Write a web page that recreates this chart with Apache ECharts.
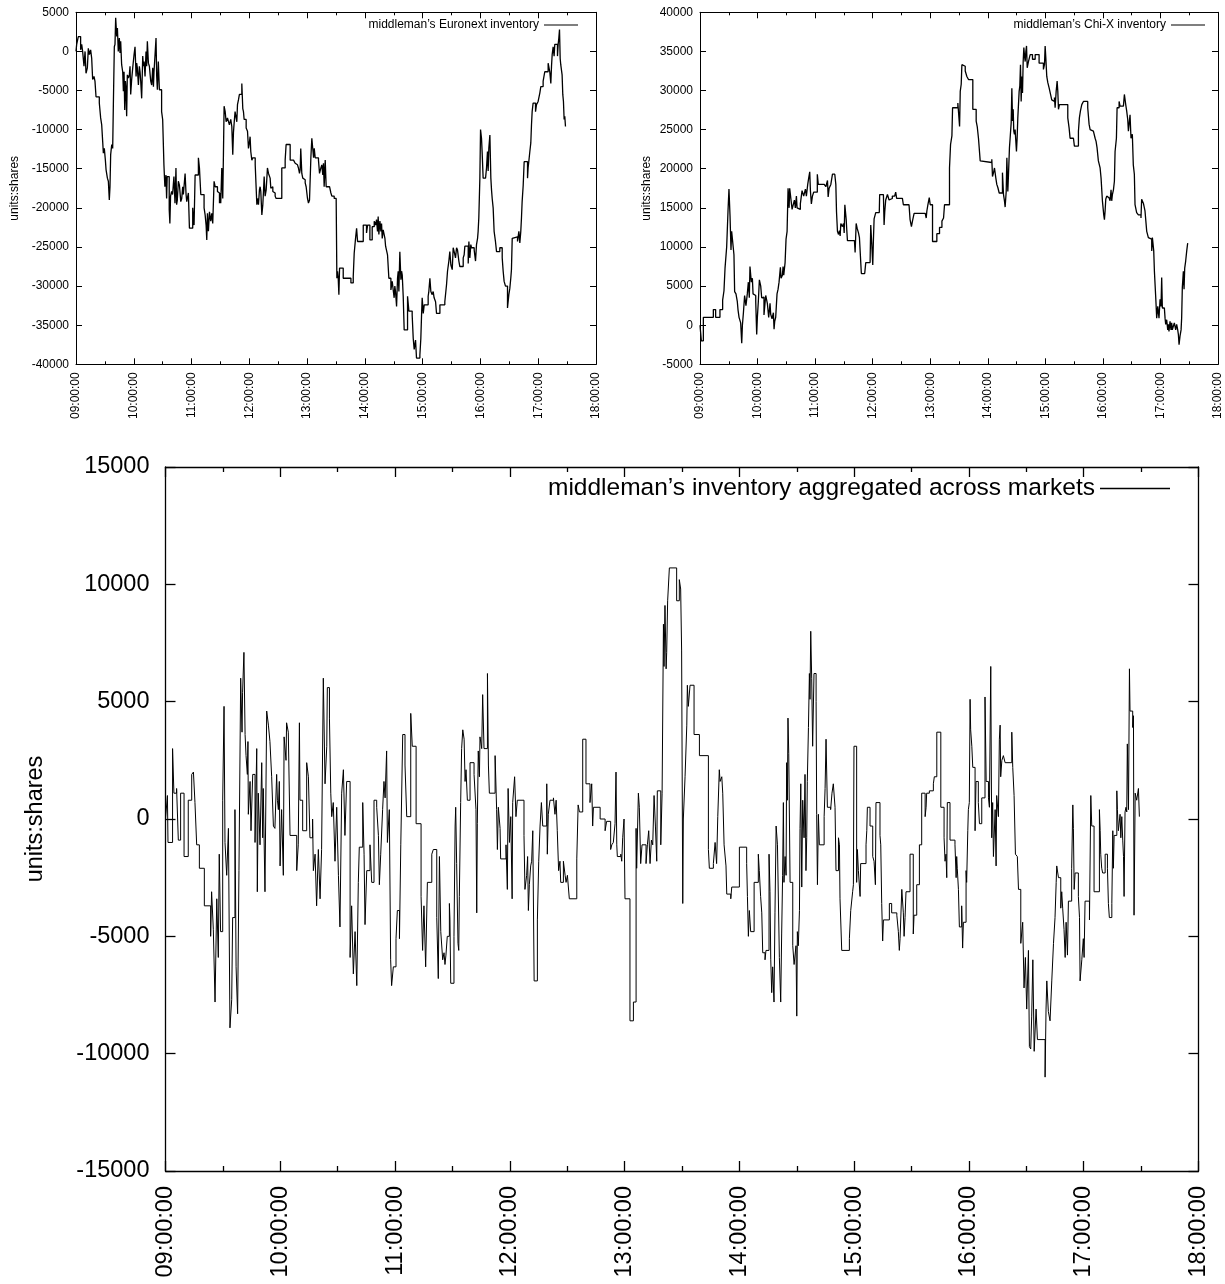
<!DOCTYPE html>
<html>
<head>
<meta charset="utf-8">
<script src="https://cdn.jsdelivr.net/npm/echarts@6/dist/echarts.min.js"></script>
<style>
html,body{margin:0;padding:0;background:#fff;}
#chart{width:1225px;height:1284px;}
</style>
</head>
<body>
<div id="chart"></div>
<script>
// Time axis: minutes after 09:00:00
const hourLabels = ['09:00:00','10:00:00','11:00:00','12:00:00','13:00:00','14:00:00','15:00:00','16:00:00','17:00:00','18:00:00'];

const euronextName = 'middleman\u2019s Euronext inventory';
const chixName = 'middleman\u2019s Chi-X inventory';
const aggName = 'middleman\u2019s inventory aggregated across markets';
const yName = 'units:shares';

const euronextTime = [0,0.7,2.4,4.8,5.9,6.9,8.3,9.4,10.4,11.8,12.8,13.9,15.2,16.3,17.3,18.7,19.7,20.8,24.2,25.6,26.7,27.7,28.4,29.4,30.5,31.2,32.6,33.6,34.6,35.3,36.0,37.1,38.1,38.8,39.8,40.5,41.2,42.3,43.0,43.9,45.0,45.7,46.4,47.4,48.5,49.2,49.9,50.6,51.3,51.9,52.6,53.3,54.4,55.4,56.1,56.8,57.8,58.9,60.3,61.3,62.4,63.0,63.7,64.8,65.8,66.5,67.2,68.2,69.3,70.0,70.7,71.7,72.7,73.4,74.1,75.2,76.2,77.6,78.6,79.7,80.4,81.0,82.1,83.1,83.8,84.5,85.5,86.6,88.9,90.0,91.3,92.3,93.4,94.1,94.7,96.8,97.5,98.2,99.3,100.3,101.7,102.8,103.8,104.5,105.2,106.3,107.4,108.8,109.8,110.8,111.5,113.3,114.3,115.0,116.7,117.8,121.2,121.9,122.6,123.7,127.1,128.2,129.6,133.0,134.1,135.1,135.8,136.5,137.5,138.6,139.9,141.0,142.0,143.4,144.5,146.9,147.9,149.0,149.6,150.3,151.4,152.4,153.1,153.8,154.9,155.9,157.3,158.3,159.3,160.7,161.8,162.8,163.5,164.2,165.2,166.3,167.0,167.7,168.7,169.7,172.2,173.2,173.9,174.6,176.7,178.1,179.1,180.2,180.8,181.5,182.6,183.6,186.1,187.1,187.8,188.5,189.5,190.5,191.2,191.9,193.0,194.0,194.7,195.4,196.4,197.5,198.8,199.9,201.6,202.3,203.3,204.4,205.8,206.8,207.8,211.3,212.7,213.7,217.2,218.2,222.4,225.9,227.6,228.6,230.0,231.0,232.1,232.8,233.4,234.5,235.5,236.9,238.0,239.0,240.4,241.4,242.5,243.2,243.9,244.9,246.0,246.7,247.4,248.4,251.8,252.9,253.6,254.3,255.3,256.3,257.0,257.7,258.8,259.8,263.3,264.7,265.7,268.1,270.2,270.9,271.6,272.3,273.0,273.7,277.5,285.5,287.9,288.9,290.3,291.4,292.4,298.3,301.7,302.8,305.2,307.6,309.7,311.1,312.1,313.1,313.8,314.5,315.6,316.6,317.3,318.0,319.0,320.8,321.5,322.5,323.5,324.9,327.0,328.4,329.4,330.4,331.1,331.8,332.9,333.9,334.6,335.3,336.3,337.4,338.1,338.8,339.8,340.8,344.3,345.7,349.1,350.2,351.2,352.6,353.6,357.1,358.1,358.8,359.5,360.6,361.6,365.7,366.4,367.5,368.5,369.9,370.9,371.9,373.4,374.4,377.9,383.0,384.8,385.8,387.2,388.2,389.3,390.7,391.7,392.7,394.1,395.2,396.2,397.6,398.6,402.1,403.1,403.8,407.3,408.0,409.0,410.0,410.7,413.5,414.2,414.9,415.9,417.0,417.6,418.3,419.4,420.1,421.1,421.8,422.8,425.3,426.3,427.3,428.0,428.7,429.8,430.8,431.5,432.2,433.2,434.2,435.6,436.7,440.1,442.6,443.6,444.6,446.0,448.1,449.5,450.5,451.5,452.2,453.0,454.0,458.5,459.9,460.9,461.9,462.6,463.3,464.4,465.4,468.9,469.5,470.2,471.3,472.3,473.0,473.7,474.7,477.2,478.2,479.9,481.7,482.7,485.1,486.8,490.3,492.0,493.1,493.8,494.5,495.5,496.5,497.2,500.0,500.7,501.4,502.1,502.8,503.4,504.1,504.8,505.5,506.2,506.9,507.6,508.3];
const euronextInv = [0,900,1900,200,900,0,-1900,0,-2800,-2100,400,-400,200,-900,-3600,-3200,-3800,-5800,-6600,-8500,-9400,-11500,-13000,-12400,-13900,-15100,-16200,-16600,-19000,-17300,-13200,-11900,-12400,-6800,600,900,4300,1900,3000,0,1700,-200,1300,-1700,-2600,-5100,-2600,-7500,-3800,-4700,-8300,-3000,-3400,-3000,-1900,-5500,-3600,-2100,-400,600,-3200,-1500,-2100,-4300,-1900,-2600,-3800,-6000,-600,-1900,-1300,-3200,0,-1900,1300,-1500,-1900,-3800,-4300,-2100,-4500,-2600,-400,1700,-3200,-4900,-1300,-4900,-7700,-8700,-14500,-17300,-15800,-18800,-16000,-20200,-22000,-18500,-17900,-18300,-16000,-19400,-14900,-19600,-19000,-16600,-17100,-19200,-18800,-17300,-18300,-15600,-18300,-19200,-18100,-22600,-20000,-21300,-22200,-15800,-13600,-14900,-18300,-20000,-20900,-22200,-24100,-20700,-23000,-20500,-21700,-20700,-22000,-16600,-17300,-17900,-18100,-19400,-18100,-19400,-14900,-18800,-13200,-7000,-7700,-9000,-8500,-8700,-9400,-8700,-9600,-13200,-10400,-9200,-7700,-7500,-9000,-6800,-6200,-5500,-4100,-7300,-7700,-8700,-9800,-10200,-12400,-11500,-10900,-12800,-13900,-13600,-14500,-17500,-19600,-18800,-19600,-17700,-17300,-17900,-20900,-19600,-17900,-16000,-18500,-17700,-14900,-15600,-16200,-17500,-17300,-17900,-18100,-18500,-18800,-19000,-18800,-14900,-13900,-11900,-13900,-14100,-14300,-14500,-14300,-14900,-15600,-15100,-12400,-15600,-16200,-16400,-16800,-17300,-18800,-19400,-19000,-18800,-13600,-11100,-10900,-13600,-12400,-13600,-13900,-15600,-15800,-14900,-14500,-15800,-14300,-17300,-13900,-17300,-17500,-18100,-18500,-18800,-19200,-29000,-28100,-29000,-31100,-27700,-29000,-29600,-28800,-25800,-23900,-22600,-24300,-22200,-23200,-22200,-24100,-22400,-21700,-22200,-21500,-23000,-21100,-23400,-21700,-23000,-22000,-23900,-22800,-23900,-24900,-25100,-26000,-29000,-30500,-29400,-30500,-31500,-30000,-30700,-32600,-29000,-28100,-30700,-25600,-29200,-28100,-28600,-31300,-35600,-31300,-33200,-33700,-36700,-38100,-36900,-39200,-38800,-36700,-33900,-31500,-33500,-32400,-31300,-30700,-29000,-30700,-31100,-30700,-31500,-32000,-33500,-32400,-32000,-29800,-28100,-26800,-25600,-27300,-27900,-25100,-25600,-26400,-25100,-25400,-26800,-27500,-26400,-26000,-24900,-27100,-24300,-26400,-24700,-25100,-25400,-25600,-26800,-24700,-23900,-23000,-21300,-16200,-10000,-11100,-13000,-16200,-16400,-14900,-12800,-15300,-12400,-10700,-16200,-17700,-18800,-20000,-23000,-24300,-25600,-25100,-26400,-28100,-29400,-30000,-32800,-31100,-30300,-29000,-27900,-23900,-23700,-24300,-23000,-24500,-23000,-21300,-19200,-17100,-14100,-16200,-14900,-14100,-12800,-11700,-9400,-7700,-6600,-7700,-6800,-6400,-5300,-4500,-3800,-2600,-1500,-2600,-4100,-1900,-400,600,-600,900,-600,900,1700,2800,-900,-1700,-1500,-3000,-5500,-6400,-8700,-8300,-9600];

const chixTime = [0,1.4,3.5,13.9,16.3,20.8,23.6,25.0,26.1,27.8,29.2,30.2,31.3,32.3,33.0,34.8,35.4,36.1,37.5,38.9,39.6,40.7,42.4,43.5,44.2,45.2,46.5,47.9,49.3,50.4,51.4,52.1,53.5,54.6,55.3,56.3,58.1,59.1,59.8,60.8,61.9,63.3,64.3,65.4,66.7,68.5,70.2,71.6,73.0,73.7,75.1,76.5,77.2,77.9,78.9,79.6,80.3,81.4,82.4,83.8,84.5,85.9,86.6,87.3,88.7,89.7,90.8,91.8,92.9,93.5,95.3,96.0,97.7,98.4,99.4,100.5,101.2,102.2,104.6,106.4,108.1,109.9,110.9,112.3,113.3,114.4,115.1,116.1,117.2,118.5,120.3,122.3,123.3,129.5,131.2,132.9,133.6,134.6,136.4,138.1,140.5,141.6,142.3,143.3,144.4,145.4,146.1,146.8,148.5,149.6,150.3,151.0,152.4,153.0,153.7,161.0,161.7,162.8,163.8,165.2,166.2,168.2,171.7,172.8,177.3,178.0,179.0,180.1,180.8,181.5,183.2,186.9,187.3,191.2,191.9,192.6,193.6,195.4,197.1,198.8,200.5,202.9,204.0,205.0,211.0,212.0,217.9,219.0,220.4,221.8,223.2,234.8,235.8,236.5,237.6,239.0,240.0,242.4,246.9,249.7,252.2,253.9,254.9,260.1,261.2,262.6,263.3,268.8,269.5,270.6,271.3,272.3,273.0,274.7,276.5,278.2,279.9,284.4,287.9,289.0,290.3,292.1,293.8,304.2,304.9,306.0,307.0,308.4,309.4,310.5,311.9,315.3,316.4,317.4,318.1,319.2,319.9,320.9,321.6,322.6,323.3,324.4,325.1,325.8,326.5,327.1,327.8,328.5,329.2,329.9,330.6,331.3,332.0,332.7,333.4,334.1,334.8,335.5,336.2,336.9,337.6,338.3,339.0,339.7,340.4,341.1,342.4,344.2,346.6,349.4,353.5,358.0,359.1,359.8,360.5,361.5,362.6,364.0,366.0,366.7,368.5,369.5,370.2,371.3,372.3,373.0,373.7,374.7,383.4,384.8,385.8,389.3,390.3,394.5,395.5,396.6,398.0,399.7,404.2,405.6,406.7,408.4,410.1,411.9,412.9,413.9,415.3,417.1,418.1,419.5,420.9,421.6,422.3,423.0,424.0,425.1,426.4,427.5,428.5,429.2,429.9,431.0,432.0,432.7,434.1,434.8,436.9,437.9,441.4,442.4,443.8,444.8,445.9,446.6,448.3,449.3,450.7,451.7,452.8,453.5,455.2,457.0,459.7,460.4,462.2,463.9,465.7,467.4,469.1,470.9,471.6,473.0,473.7,475.1,476.1,477.2,478.5,479.6,480.6,481.3,482.0,484.1,484.8,485.5,486.5,487.6,488.2,488.9,490.0,491.0,491.7,492.4,493.5,494.5,495.9,496.9,498.0,498.7,499.4,500.4,501.5,502.1,502.8,503.9,504.6,505.3,506.3,507.4,508.4];
const chixInv = [0,-2000,1000,2000,1000,2000,3200,4400,7300,10000,14600,17400,14000,9600,12000,12000,9000,4300,4000,3000,2000,1000,300,-2300,0,1500,3800,2500,4000,5500,3500,7500,5500,6000,4000,3800,3000,-1200,1000,3000,5800,5000,3500,3600,1300,3800,2800,1000,2800,1400,800,1600,-500,500,1000,1200,4000,4600,5500,7400,6000,6400,7500,6400,8000,11000,12000,17500,15000,17500,17500,14800,15000,16000,15000,16500,15000,14800,15500,17200,16500,17400,16500,18000,18800,19600,17200,15500,16500,17000,17000,19300,18000,18000,17700,18500,16400,17500,18000,19300,19300,18000,14500,12000,11600,12100,11400,13000,12600,13000,11800,15400,13500,12200,10800,10800,9300,13000,12400,11800,11200,6600,6600,8000,8000,12800,10500,7700,11000,13600,14400,14400,16700,16700,12800,14500,16000,16700,16000,16200,16500,16400,17000,16200,16200,15400,15400,13500,12600,13500,14300,14300,13700,14600,15400,16300,15400,10700,11700,12500,13300,13700,15400,20100,23100,24200,27800,28400,28600,25400,29900,30800,33300,33100,32500,31800,31400,27600,26100,25400,23900,21000,20800,21200,19000,19500,20100,18800,18000,17600,16900,19500,16700,15900,15100,17100,21400,17100,19300,22700,23900,25900,30300,26100,27600,24800,24400,25000,24800,22200,23900,26500,28200,29900,30600,33300,28600,31800,29700,33700,35500,34400,33700,35000,35700,32900,33700,34600,34000,34600,33500,32700,33300,35700,34200,31800,31000,30300,30100,28800,28600,29100,27800,29900,31200,29900,27600,28200,26500,25200,23900,23700,22900,24800,26500,27400,28200,28600,27800,25700,25000,24800,24600,23900,23500,22700,21000,20100,18800,15900,14100,13500,14600,16100,16500,16300,16100,15900,17300,15900,16700,17300,18400,22200,23900,27800,28600,28000,28200,29500,28200,27400,26300,24800,26900,23900,24400,20500,19300,15400,14400,14100,13700,16100,15600,14600,12000,11200,11000,9500,11200,9500,6900,3500,900,2400,900,3300,2400,6100,2200,2000,900,100,700,-600,100,-800,500,-600,300,-600,-100,300,-600,100,-600,-1200,-2500,-1400,-600,900,4800,6900,4600,7300,8200,9500,10500];

const aggTime = [0,1.0,1.3,3.7,4.4,5.8,6.7,7.9,9.7,11.9,13.7,14.6,15.4,16.3,17.7,20.3,23.6,24.1,25.0,25.9,26.8,27.6,28.1,28.8,29.9,30.6,31.1,32.0,32.9,33.7,34.6,35.1,36.3,36.9,37.7,38.4,39.3,40.0,40.3,41.0,41.6,42.1,42.8,43.1,43.3,44.2,44.7,45.6,46.8,47.7,48.0,48.5,49.4,50.3,50.8,51.1,52.0,52.9,53.8,54.6,55.5,56.4,57.2,58.1,58.5,59.0,59.5,59.9,60.7,61.6,62.0,63.0,63.3,64.2,65.1,68.6,69.4,70.0,70.3,71.7,73.8,74.7,75.5,76.9,77.3,78.2,79.0,79.9,80.8,81.6,82.5,83.4,84.3,84.6,85.7,86.4,86.9,87.7,88.6,89.5,90.4,91.2,92.1,93.0,93.8,94.7,96.5,97.3,98.2,99.1,100.0,100.8,101.3,103.1,103.8,104.3,105.2,106.9,107.8,109.0,110.4,111.3,111.8,112.5,113.5,114.2,114.8,115.6,116.0,117.0,117.7,118.2,119.1,120.5,121.2,122.3,123.0,124.0,125.2,126.1,128.2,129.0,131.0,133.6,134.4,135.1,136.0,136.9,139.2,140.0,141.8,142.6,143.2,143.9,144.9,145.6,146.1,146.6,147.3,148.4,148.7,149.1,150.8,151.4,151.7,152.2,152.9,153.3,153.6,154.3,154.8,155.4,156.1,156.6,157.1,157.8,159.2,161.3,162.3,162.7,163.0,163.5,164.1,164.4,165.3,165.8,166.5,168.3,168.8,169.3,172.3,173.1,173.5,174.0,174.9,175.2,178.0,178.7,179.1,179.8,180.5,181.2,181.5,182.5,183.2,183.9,187.4,187.9,188.8,189.3,189.7,190.2,190.9,191.4,192.0,192.7,194.4,195.1,195.8,196.5,197.2,199.3,199.6,200.1,201.0,202.8,203.6,204.2,204.8,205.5,206.2,206.6,208.0,208.9,209.4,210.1,211.1,215.0,215.7,216.4,218.1,219.8,221.9,222.8,223.3,223.7,227.2,229.8,230.6,232.7,233.3,234.1,235.0,235.5,235.9,236.2,238.0,238.5,239.0,239.7,240.2,242.8,244.6,246.0,246.3,247.2,247.7,248.4,249.1,251.2,251.9,252.6,253.3,254.0,254.7,255.4,256.1,256.8,257.1,258.9,259.6,260.3,260.6,261.1,261.7,262.0,262.5,263.4,267.2,268.6,269.3,269.8,270.4,270.7,271.6,272.5,272.8,273.3,274.2,276.3,279.1,283.8,284.3,286.4,287.3,288.1,288.7,289.5,289.9,290.8,291.3,292.0,293.0,293.4,295.5,296.0,300.0,303.8,304.2,304.7,305.2,305.9,307.7,309.9,310.4,311.1,311.7,312.2,313.4,313.9,315.5,316.0,316.4,316.9,317.4,318.1,318.6,319.2,319.9,320.9,321.6,322.1,322.6,323.0,323.3,323.9,324.4,324.7,325.1,325.4,325.8,326.5,327.9,328.6,329.6,330.0,330.3,330.8,331.4,331.7,332.1,332.6,333.1,333.8,334.3,334.8,335.2,335.5,336.1,336.6,336.9,337.3,337.8,338.3,339.0,340.1,340.4,340.8,341.3,341.8,344.3,344.8,345.3,346.0,347.7,348.4,349.1,350.0,350.5,351.8,352.3,352.6,353.5,357.5,358.2,359.2,359.6,359.9,361.3,361.7,362.2,363.1,363.4,366.2,366.6,366.9,368.3,369.7,370.4,371.1,371.4,373.5,373.9,374.4,374.9,375.3,378.4,379.6,382.3,383.1,383.6,384.0,384.9,385.7,386.1,386.6,387.1,389.2,390.9,391.3,392.7,394.1,395.3,397.1,397.6,397.9,399.3,401.4,401.9,403.2,405.3,407.0,407.5,408.0,408.4,408.7,410.1,412.7,413.3,413.6,413.9,414.5,415.0,416.2,416.7,417.1,418.5,418.8,419.4,419.7,420.2,420.6,420.9,421.5,422.0,423.2,423.7,424.9,425.5,426.7,428.4,429.0,430.2,430.7,431.4,431.9,432.4,432.8,433.7,434.2,434.5,435.4,435.9,436.3,436.6,437.2,438.0,438.9,442.4,442.9,443.6,444.3,445.3,445.9,447.1,448.1,448.8,449.5,450.2,451.1,451.6,452.3,452.8,453.4,454.1,455.1,455.8,459.8,460.3,460.7,461.5,462.4,463.3,464.2,465.0,465.6,465.9,466.8,468.0,468.5,469.0,469.7,470.3,470.8,471.5,472.0,473.7,474.3,474.6,475.0,475.5,477.2,477.8,478.1,479.0,479.8,480.2,480.7,483.0,483.7,484.2,485.4,488.2,488.6,488.9,489.4,489.9,491.2,492.4,492.9,493.4,494.7,495.2,495.5,495.9,497.3,497.6,498.1,499.0,499.4,499.9,500.4,500.8,501.1,501.6,502.1,502.5,502.8,503.4,503.9,504.2,505.6,506.0,506.3,506.9,507.7,508.6,509.1];
const aggInv = [0,1000,-1000,3000,1100,1300,-900,1100,-1600,800,1900,2000,700,-1100,-2100,-3700,-5000,-3100,-4700,-7800,-3400,-5900,-1500,-4800,800,4800,-1000,-2400,-400,-8900,-7700,-4200,400,-6300,-8300,-2200,6000,3700,5400,7100,3600,2700,1900,3300,200,1600,-500,1900,-1000,3000,-3100,1100,-1100,2400,-800,1300,-3100,4600,4000,3300,1800,-300,-400,1900,800,400,1600,-2000,400,-2400,3500,2500,4100,3700,-700,-2200,-1100,4100,800,-500,2400,1800,-800,0,-2200,-1500,-3700,-1300,-3400,-1300,6000,1500,3100,5600,4300,1100,100,700,-1800,500,-2400,-4600,1100,2100,-700,1600,-5900,-3700,-6600,-4800,-7100,-2700,-1200,700,-1500,-4500,-2200,-1100,-2700,800,500,-700,-2800,-1500,400,1600,900,2900,-1000,400,-6000,-7100,-6300,-5100,-3900,-5100,-1100,3600,2300,100,4500,3100,-200,-3300,-5600,-3700,-6300,-2700,-1500,-1300,-4200,-6800,-1600,-4800,-6000,-5700,-6200,-5800,-5000,-3600,-4300,-7000,-5000,-300,500,-1900,-5300,-5600,-3300,700,3000,3800,3400,1600,2100,800,2400,1900,400,-4000,-200,2900,1800,3500,3000,5300,3000,6200,2300,1100,2700,400,-1300,500,-400,-1700,-1100,-3000,1300,-1000,100,-3400,700,1800,100,800,-700,-3000,-2400,-1600,-3900,-2800,-2000,-1800,-500,-6900,-4300,-1800,-300,700,-300,1500,-1500,200,800,900,200,800,-500,-2200,-1800,-2700,-1800,-2400,-2700,-2400,-3400,-1700,600,300,3400,1500,700,1500,-300,500,0,-500,-100,-1300,-1100,-1000,-200,2000,-1100,-1600,-1500,-1800,-800,0,-3400,-8600,-7800,-400,-2100,1100,500,-1900,-1100,-1900,-1100,-500,-1900,-900,-1100,1000,-300,-1800,1200,-1100,1100,8300,6500,9100,6400,7100,9300,10700,9300,10200,9800,7200,-3600,0,1800,4000,5700,4800,5700,3600,2700,-1300,-2100,-1900,-1000,-1900,100,2100,1600,1800,1100,-1100,-2000,-3200,-3400,-2900,-1200,-1900,-3300,-5000,-3900,-4800,-2700,-1500,-2200,-3300,-4000,-5700,-6000,-5600,-1500,-3100,-6000,-7400,-6300,-7800,-4000,-300,-1100,-5900,-7800,-4900,-2400,700,-2700,-1600,-2400,2400,800,4300,2800,-2700,-5400,-6200,-5400,-8400,-4800,-5400,-3900,-400,1500,-2900,800,-800,1900,-2200,-800,1600,3900,6200,5100,8000,6000,3100,6200,5000,200,-2800,200,-1100,100,1300,3400,500,400,1100,1500,500,-2200,-800,-1100,-3400,-5600,-5100,-3900,-3100,-2800,3100,-2700,-1300,-2200,-3300,-1900,-1100,-500,500,-300,-1600,-1800,-2800,700,-700,-1100,-3600,-5200,-4300,-3600,-4000,-4100,-4800,-5600,-5100,-3000,-4000,-5000,-4200,-3100,-1500,-4900,-4100,-2800,-1100,1100,100,500,1100,1200,1500,1800,3700,500,-800,-1800,-1500,-2500,700,-900,-1100,-2500,-1600,-2100,-3000,-4600,-3700,-5500,-4400,-2200,-2700,-500,400,700,5100,3800,3100,2200,-500,1600,700,-200,900,5200,1600,900,500,6500,-800,700,-1600,400,-2000,1000,100,3400,4000,1800,2500,2700,2400,3700,2200,1000,-1500,-1600,-3000,-5300,-4400,-7200,-5900,-8100,-5600,-9700,-9800,-8400,-6000,-9900,-8100,-9400,-11000,-8100,-6900,-8200,-8600,-6900,-5300,-4200,-2700,-2000,-2500,-3800,-3100,-3800,-4700,-5900,-4400,-5800,-3500,-2100,600,-400,-3000,-2300,-3300,-4200,-6900,-6000,-5100,-5900,-3500,-4300,1000,-300,-3100,400,-500,-1500,-2100,-2300,-1500,-2100,-3600,-4200,-3600,-500,-2100,-700,1200,400,-500,200,-800,100,-900,-1600,-3300,300,500,300,3200,400,6400,4600,3900,4400,-4100,1100,800,1300,100];

const FONT = '"Liberation Sans", Arial, Helvetica, sans-serif';

function pairs(t, v) { return t.map((x, i) => [x, v[i]]); }

const panels = [
  { grid: {left: 76, top: 12.3, width: 520, height: 352}, ymin: -40000, ymax: 5000, fs: 12, lfs: 12, tick: 6, lblMargin: 7, xMargin: 8, nameGap: 55, name: euronextName, time: euronextTime, vals: euronextInv, lw: 1.3, aw: 1,
    legend: {right: 647, top: 19, itemWidth: 34} },
  { grid: {left: 700, top: 12.3, width: 518, height: 352}, ymin: -5000, ymax: 40000, fs: 12, lfs: 12, tick: 6, lblMargin: 7, xMargin: 8, nameGap: 47, name: chixName, time: chixTime, vals: chixInv, lw: 1.3, aw: 1,
    legend: {right: 20, top: 19, itemWidth: 34} },
  { grid: {left: 165.5, top: 467, width: 1033, height: 704}, ymin: -15000, ymax: 15000, fs: 23.5, lfs: 24.5, tick: 10, lblMargin: 16, xMargin: 15, nameGap: 118, name: aggName, time: aggTime, vals: aggInv, lw: 1, aw: 1.3,
    legend: {right: 55, top: 476, itemWidth: 70} }
];

const option = {
  animation: false,
  backgroundColor: '#ffffff',
  grid: [], xAxis: [], yAxis: [], series: [], legend: []
};

panels.forEach((p, i) => {
  option.grid.push(Object.assign({containLabel: false}, p.grid));
  const mkLine = () => ({show: true, onZero: false, lineStyle: {color: '#000', width: p.aw}});
  const mkTick = () => ({show: true, inside: true, length: p.tick, lineStyle: {color: '#000', width: p.aw}});
  const mkMinor = () => ({show: true, splitNumber: 2, length: p.tick / 2, lineStyle: {color: '#000', width: p.aw}});
  const xBase = () => ({type: 'value', gridIndex: i, min: 0, max: 540, interval: 60, splitLine: {show: false}, axisLine: mkLine(), axisTick: mkTick(), minorTick: mkMinor()});
  option.xAxis.push(Object.assign(xBase(), {
    position: 'bottom',
    axisLabel: {show: true, rotate: 90, margin: p.xMargin, fontSize: p.fs, fontFamily: FONT, color: '#000',
      showMinLabel: true, showMaxLabel: true, formatter: v => hourLabels[Math.round(v / 60)]}
  }));
  option.xAxis.push(Object.assign(xBase(), {position: 'top', axisLabel: {show: false}}));
  const yBase = () => ({type: 'value', gridIndex: i, min: p.ymin, max: p.ymax, interval: 5000, splitLine: {show: false}, axisLine: mkLine(), axisTick: mkTick()});
  option.yAxis.push(Object.assign(yBase(), {
    position: 'left',
    name: yName, nameLocation: 'middle', nameRotate: 90, nameGap: p.nameGap,
    nameTextStyle: {fontSize: p.fs, fontFamily: FONT, color: '#000'},
    axisLabel: {show: true, margin: p.lblMargin, fontSize: p.fs, fontFamily: FONT, color: '#000',
      showMinLabel: true, showMaxLabel: true, formatter: v => String(v)}
  }));
  option.yAxis.push(Object.assign(yBase(), {position: 'right', axisLabel: {show: false}}));
  option.series.push({
    type: 'line', name: p.name, xAxisIndex: 2 * i, yAxisIndex: 2 * i,
    data: pairs(p.time, p.vals), step: 'end', symbol: 'none', showSymbol: false,
    lineStyle: {color: '#000', width: p.lw}, itemStyle: {color: '#000'}, clip: true
  });
  option.legend.push({
    data: [p.name], orient: 'horizontal', align: 'right', icon: 'rect',
    right: p.legend.right, top: p.legend.top, itemWidth: p.legend.itemWidth, itemHeight: i === 2 ? 1.3 : 1,
    selectedMode: false, padding: 0,
    textStyle: {fontSize: p.lfs, fontFamily: FONT, color: '#000'}
  });
});

const chart = echarts.init(document.getElementById('chart'), null, {renderer: 'canvas'});
chart.setOption(option);
</script>
</body>
</html>
